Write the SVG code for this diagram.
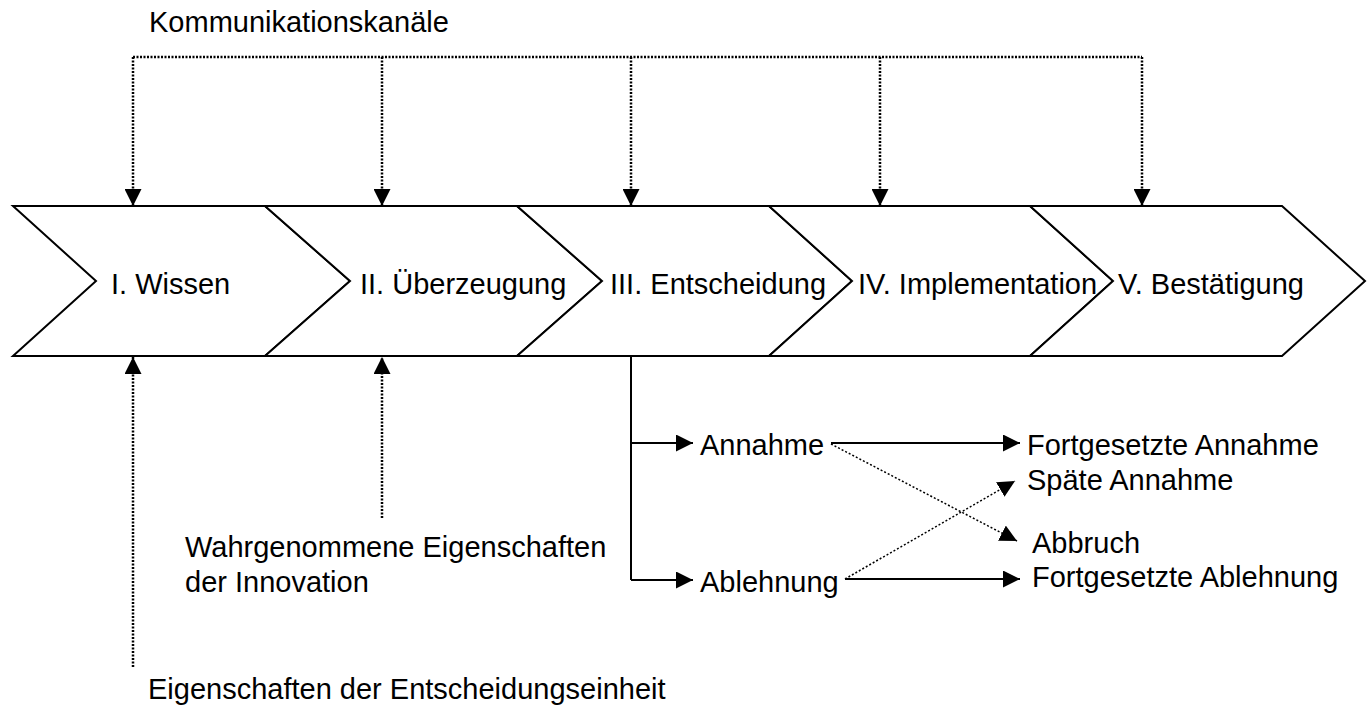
<svg xmlns="http://www.w3.org/2000/svg" width="1367" height="708" viewBox="0 0 1367 708">
<style>
.t{font-family:"Liberation Sans",Arial,sans-serif;font-size:29px;fill:#000}
.chev{fill:#fff;stroke:#000;stroke-width:2;stroke-linejoin:miter}
.dot{fill:none;stroke:#000;stroke-width:2.5;stroke-dasharray:2 1.5}
.dotthin{fill:none;stroke:#000;stroke-width:1.5;stroke-dasharray:2 2}
.sol{fill:none;stroke:#000;stroke-width:2}
</style>
<defs>
<marker id="ah" markerUnits="userSpaceOnUse" markerWidth="17" markerHeight="17" refX="16" refY="8" orient="auto" viewBox="0 0 16 16">
<path d="M0,0 L16,8 L0,16 z" fill="#000"/>
</marker>
</defs>
<rect width="1367" height="708" fill="#fff"/>
<text class="t" x="149" y="32">Kommunikationskanäle</text>
<g id="n1"><polygon class="chev" points="13,206 265,206 350,281 265,356 13,356 96,281"/><text class="t" x="111" y="294">I. Wissen</text></g>
<g id="n2"><polygon class="chev" points="265,206 517,206 602,281 517,356 265,356 350,281"/><text class="t" x="360" y="294">II. Überzeugung</text></g>
<g id="n3"><polygon class="chev" points="517,206 769,206 852,281 769,356 517,356 602,281"/><text class="t" x="610" y="294">III. Entscheidung</text></g>
<g id="n4"><polygon class="chev" points="769,206 1030,206 1113,281 1030,356 769,356 852,281"/><text class="t" x="858" y="294">IV. Implementation</text></g>
<g id="n5"><polygon class="chev" points="1030,206 1282,206 1365,281 1282,356 1030,356 1113,281"/><text class="t" x="1118" y="294">V. Bestätigung</text></g>
<g id="connectors">
<path class="dot" d="M133,57 H1142"/>
<path class="dot" d="M133,57 V206" marker-end="url(#ah)"/>
<path class="dot" d="M382,57 V206" marker-end="url(#ah)"/>
<path class="dot" d="M631,57 V206" marker-end="url(#ah)"/>
<path class="dot" d="M880,57 V206" marker-end="url(#ah)"/>
<path class="dot" d="M1142,57 V206" marker-end="url(#ah)"/>
<path class="dot" d="M133,667 V357" marker-end="url(#ah)"/>
<path class="dot" d="M382,518 V357" marker-end="url(#ah)"/>
<path class="sol" d="M631,356 V580"/>
<path class="sol" d="M631,443 H693" marker-end="url(#ah)"/>
<path class="sol" d="M631,580 H693" marker-end="url(#ah)"/>
<path class="sol" d="M831,443 H1020" marker-end="url(#ah)"/>
<path class="sol" d="M845,579 H1020" marker-end="url(#ah)"/>
<path class="dotthin" d="M831,444 L1017,541" marker-end="url(#ah)"/>
<path class="dotthin" d="M845,579 L1015,481" marker-end="url(#ah)"/>
</g>
<g id="n6"><text class="t" x="700" y="455">Annahme</text></g>
<g id="n7"><text class="t" x="700" y="592">Ablehnung</text></g>
<g id="n8"><text class="t" x="1027" y="455">Fortgesetzte Annahme</text></g>
<g id="n9"><text class="t" x="1027" y="490">Späte Annahme</text></g>
<g id="n10"><text class="t" x="1032" y="553">Abbruch</text></g>
<g id="n11"><text class="t" x="1032" y="587">Fortgesetzte Ablehnung</text></g>
<g id="n12"><text class="t" x="185" y="557">Wahrgenommene Eigenschaften</text><text class="t" x="185" y="592">der Innovation</text></g>
<g id="n13"><text class="t" x="148" y="699">Eigenschaften der Entscheidungseinheit</text></g>
</svg>
